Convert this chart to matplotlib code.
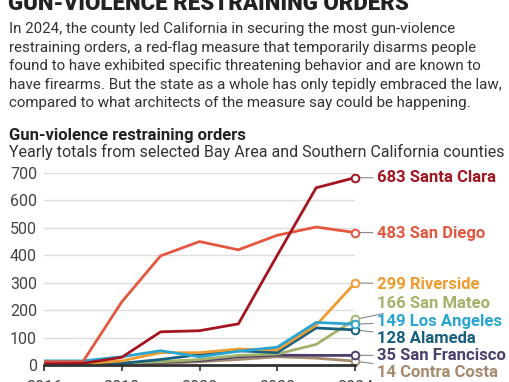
import matplotlib.pyplot as plt

YEARS = [2016, 2017, 2018, 2019, 2020, 2021, 2022, 2023, 2024]

COUNTIES = [
    "Contra Costa",
    "San Francisco",
    "San Mateo",
    "Alameda",
    "Riverside",
    "Los Angeles",
    "San Diego",
    "Santa Clara",
]

CONTRA_COSTA = [2, 2, 3, 6, 12, 20, 30, 25, 14]
SAN_FRANCISCO = [4, 4, 5, 10, 16, 30, 36, 35, 35]
SAN_MATEO = [4, 4, 6, 12, 20, 35, 40, 75, 166]
ALAMEDA = [6, 6, 6, 20, 38, 52, 45, 135, 128]
RIVERSIDE = [5, 5, 15, 45, 45, 58, 55, 145, 299]
LOS_ANGELES = [15, 15, 30, 52, 30, 50, 65, 155, 149]
SAN_DIEGO = [12, 12, 230, 398, 450, 420, 473, 503, 483]
SANTA_CLARA = [4, 6, 28, 121, 125, 150, 400, 646, 683]

SERIES = [CONTRA_COSTA, SAN_FRANCISCO, SAN_MATEO, ALAMEDA,
          RIVERSIDE, LOS_ANGELES, SAN_DIEGO, SANTA_CLARA]

COLORS = ["#a68a6d", "#4b3f6e", "#a3b26a", "#17607f",
          "#f09b2f", "#2aa5d2", "#e4573f", "#a3151f"]

# y positions (data units) where the end labels sit
LABEL_Y = [-26, 36, 226, 98, 295, 160, 481, 682]

YTICKS = [0, 100, 200, 300, 400, 500, 600, 700]
XTICKS = [2016, 2018, 2020, 2022, 2024]

TITLE = "GUN-VIOLENCE RESTRAINING ORDERS"
BODY = ("In 2024, the county led California in securing the most gun-violence\n"
        "restraining orders, a red-flag measure that temporarily disarms people\n"
        "found to have exhibited specific threatening behavior and are known to\n"
        "have firearms. But the state as a whole has only tepidly embraced the law,\n"
        "compared to what architects of the measure say could be happening.")

plt.rcParams["font.family"] = ["Roboto", "DejaVu Sans"]

W, H = 510, 382
fig = plt.figure(figsize=(W / 100, H / 100), dpi=100)
ax = fig.add_axes([44 / W, 17 / H, 311 / W, 192 / H])

for name, vals, col in zip(COUNTIES, SERIES, COLORS):
    ax.plot(YEARS, vals, color=col, lw=2.0, solid_joinstyle="miter", zorder=3)
    ax.plot(YEARS[-1], vals[-1], "o", ms=5.5, mfc="white", mec=col, mew=1.4,
            zorder=5, clip_on=False)

for name, vals, col, ly in zip(COUNTIES, SERIES, COLORS, LABEL_Y):
    ax.annotate(f"{vals[-1]} {name}", xy=(YEARS[-1], vals[-1]),
                xytext=(2024.57, ly), textcoords="data",
                color=col, fontsize=12, fontweight="bold", va="center",
                ha="left", annotation_clip=False,
                arrowprops=dict(arrowstyle="-", color="#888888", lw=0.8,
                                shrinkA=1, shrinkB=3))

ax.set_xlim(2016, 2024)
ax.set_ylim(0, 700)
ax.set_yticks(YTICKS)
ax.set_xticks(XTICKS)
ax.grid(axis="y", color="#dddddd", lw=1)
ax.set_axisbelow(True)
for s in ["top", "right", "left"]:
    ax.spines[s].set_visible(False)
ax.spines["bottom"].set_color("#333333")
ax.spines["bottom"].set_linewidth(2)
ax.spines["bottom"].set_zorder(6)
ax.tick_params(axis="y", length=0, labelsize=11.5, colors="#444444", pad=5)
ax.tick_params(axis="x", length=4, width=1.2, color="#333333",
               labelsize=11.5, labelcolor="#444444", pad=6.5)

fig.text(8 / W, 1 - 10 / H, TITLE, fontsize=16, fontweight="black",
         color="#222222", va="baseline")
fig.text(9 / W, 1 - 22 / H, BODY, fontsize=10.9, color="#333333",
         va="top", linespacing=1.42)
fig.text(9 / W, 1 - 135 / H, "Gun-violence restraining orders", fontsize=12,
         fontweight="bold", color="#222222", va="center")
fig.text(9 / W, 1 - 152 / H,
         "Yearly totals from selected Bay Area and Southern California counties",
         fontsize=11.5, color="#333333", va="center")

fig.savefig("out.png", dpi=100)
